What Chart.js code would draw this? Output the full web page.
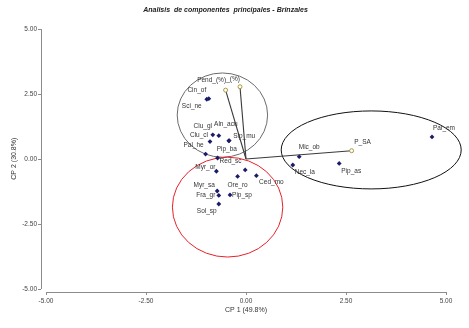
<!DOCTYPE html>
<html>
<head>
<meta charset="utf-8">
<script src="https://cdn.jsdelivr.net/npm/chart.js@4.4.0/dist/chart.umd.min.js"></script>
<style>
  html, body { margin: 0; padding: 0; background: #fff; }
  #wrap { width: 469px; height: 328px; }
</style>
</head>
<body>
<div id="wrap"><canvas id="chart" width="469" height="328"></canvas></div>
<script>
// scores of the species on the two components
const speciesNames = ['Cin_of', 'Sci_ne', 'Clu_gl', 'Aln_acu', 'Clu_cl', 'Pip_ba', 'Slp_mu', 'Pal_he', 'Red_sc',
  'Myr_or', '', 'Ore_ro', 'Ced_mo', 'Myr_sa', 'Fra_gr', 'Pip_sp', 'Sol_sp', 'Mic_ob', 'Nec_la', 'Pip_as', 'Pal_em'];
const speciesCP1 = [-0.93, -0.98, -0.83, -0.68, -0.90, -0.43, -0.42, -1.01, -0.71,
  -0.74, -0.02, -0.21, 0.26, -0.72, -0.68, -0.40, -0.68, 1.33, 1.17, 2.33, 4.65];
const speciesCP2 = [2.32, 2.30, 0.93, 0.90, 0.67, 0.70, 0.71, 0.19, 0.04,
  -0.47, -0.42, -0.67, -0.64, -1.23, -1.40, -1.38, -1.73, 0.09, -0.23, -0.17, 0.85];

// environmental variables (arrows from the origin)
const varNames = ['Pend_(%)', '_(%)', 'P_SA'];
const varCP1 = [-0.51, -0.15, 2.64];
const varCP2 = [2.65, 2.78, 0.32];

// groups drawn as ellipses (centre and half axes, in CP units)
const groupCP1 = [-0.59, -0.46, 3.13];
const groupCP2 = [1.69, -1.85, 0.35];
const groupHalfCP1 = [1.13, 1.38, 2.25];
const groupHalfCP2 = [1.62, 1.92, 1.50];
const groupColors = ['#6b6b6b', '#e8202a', '#111111'];

const tickValues = [-5, -2.5, 0, 2.5, 5];

// label placement, pixels from the marker
const labelOffset = {
  'Cin_of': [-12, -9], 'Sci_ne': [-15, 7], 'Clu_gl': [-10, -9], 'Aln_acu': [7, -11],
  'Clu_cl': [-11, -6], 'Pip_ba': [-2, 8], 'Slp_mu': [15, -4], 'Pal_he': [-12, -9],
  'Red_sc': [13, 3], 'Myr_or': [-11, -4], 'Ore_ro': [0, 9], 'Ced_mo': [15, 7],
  'Myr_sa': [-13, -6], 'Fra_gr': [-13, 0], 'Pip_sp': [12, 0], 'Sol_sp': [-12, 7],
  'Mic_ob': [10, -9], 'Nec_la': [12, 7], 'Pip_as': [12, 8], 'Pal_em': [12, -9],
  'Pend_(%)': [-14, -10], '_(%)': [-7, -8], 'P_SA': [11, -9]
};

const FONT = '"Liberation Sans", Arial, sans-serif';

const speciesData = speciesCP1.map((v, i) => ({ x: v, y: speciesCP2[i], name: speciesNames[i] }));

const vectorSets = varNames.map((n, i) => ({
  data: [{ x: 0, y: 0, name: '' }, { x: varCP1[i], y: varCP2[i], name: n }],
  showLine: true,
  borderColor: '#3a3a3a',
  borderWidth: 1.1,
  pointRadius: [0, 2],
  pointStyle: 'circle',
  pointBackgroundColor: '#ffffff',
  pointBorderColor: '#a8983a',
  pointBorderWidth: 1
}));

const extras = {
  id: 'extras',
  beforeDatasetsDraw(chart) {
    const { ctx, chartArea } = chart;
    const xs = chart.scales.x, ys = chart.scales.y;
    ctx.save();
    // axis lines, kept apart like the original
    ctx.strokeStyle = '#8c8c8c';
    ctx.lineWidth = 1;
    ctx.beginPath();
    ctx.moveTo(chartArea.left + 0.5, ys.getPixelForValue(5));
    ctx.lineTo(chartArea.left + 0.5, ys.getPixelForValue(-5));
    ctx.moveTo(xs.getPixelForValue(-5), chartArea.bottom + 0.5);
    ctx.lineTo(xs.getPixelForValue(5), chartArea.bottom + 0.5);
    ctx.stroke();
    // group ellipses
    groupCP1.forEach((cx, i) => {
      const px = xs.getPixelForValue(cx);
      const py = ys.getPixelForValue(groupCP2[i]);
      const rx = Math.abs(xs.getPixelForValue(cx + groupHalfCP1[i]) - px);
      const ry = Math.abs(ys.getPixelForValue(groupCP2[i] + groupHalfCP2[i]) - py);
      ctx.strokeStyle = groupColors[i];
      ctx.lineWidth = 1;
      ctx.beginPath();
      ctx.ellipse(px, py, rx, ry, 0, 0, Math.PI * 2);
      ctx.stroke();
    });
    ctx.restore();
  },
  afterDatasetsDraw(chart) {
    const { ctx } = chart;
    ctx.save();
    ctx.font = '6.5px ' + FONT;
    ctx.fillStyle = '#333';
    ctx.textAlign = 'center';
    ctx.textBaseline = 'middle';
    chart.data.datasets.forEach((ds, di) => {
      const meta = chart.getDatasetMeta(di);
      ds.data.forEach((p, i) => {
        if (!p.name) return;
        const el = meta.data[i];
        const off = labelOffset[p.name] || [8, -6];
        ctx.fillText(p.name, el.x + off[0], el.y + off[1]);
      });
    });
    ctx.restore();
  }
};

new Chart(document.getElementById('chart'), {
  type: 'scatter',
  data: {
    datasets: [
      ...vectorSets,
      {
        data: speciesData,
        pointStyle: 'rectRot',
        pointRadius: 2.4,
        backgroundColor: '#1b1b6a',
        borderColor: '#1b1b6a',
        borderWidth: 0
      }
    ]
  },
  options: {
    responsive: false,
    animation: false,
    layout: { padding: { left: 0, right: 18, top: 0, bottom: 0 } },
    plugins: {
      legend: { display: false },
      tooltip: { enabled: false },
      title: {
        display: true,
        text: 'Analisis  de componentes  principales - Brinzales',
        color: '#222',
        font: { family: FONT, size: 7, style: 'italic', weight: 'bold' },
        padding: { top: 6, bottom: 11 }
      }
    },
    scales: {
      x: {
        type: 'linear',
        min: -5.125,
        max: 5.125,
        afterBuildTicks: s => { s.ticks = tickValues.map(v => ({ value: v })); },
        afterFit: s => { s.height = 36; },
        grid: { drawOnChartArea: false, tickLength: 3, color: '#8c8c8c' },
        border: { display: false },
        ticks: {
          padding: 2,
          color: '#444',
          font: { family: FONT, size: 6.5 },
          callback: v => v.toFixed(2)
        },
        title: {
          display: true,
          text: 'CP 1 (49.8%)',
          color: '#333',
          font: { family: FONT, size: 7 },
          padding: { top: 0, bottom: 14 }
        }
      },
      y: {
        type: 'linear',
        min: -5.115,
        max: 5.14,
        afterBuildTicks: s => { s.ticks = tickValues.map(v => ({ value: v })); },
        afterFit: s => { s.width = 41; },
        grid: { drawOnChartArea: false, tickLength: 3, color: '#8c8c8c' },
        border: { display: false },
        ticks: {
          padding: 1,
          color: '#444',
          font: { family: FONT, size: 6.5 },
          callback: v => v.toFixed(2)
        },
        title: {
          display: true,
          text: 'CP 2 (30.8%)',
          color: '#333',
          font: { family: FONT, size: 7 },
          padding: { top: 10, bottom: 2 }
        }
      }
    }
  },
  plugins: [extras]
});
</script>
</body>
</html>
